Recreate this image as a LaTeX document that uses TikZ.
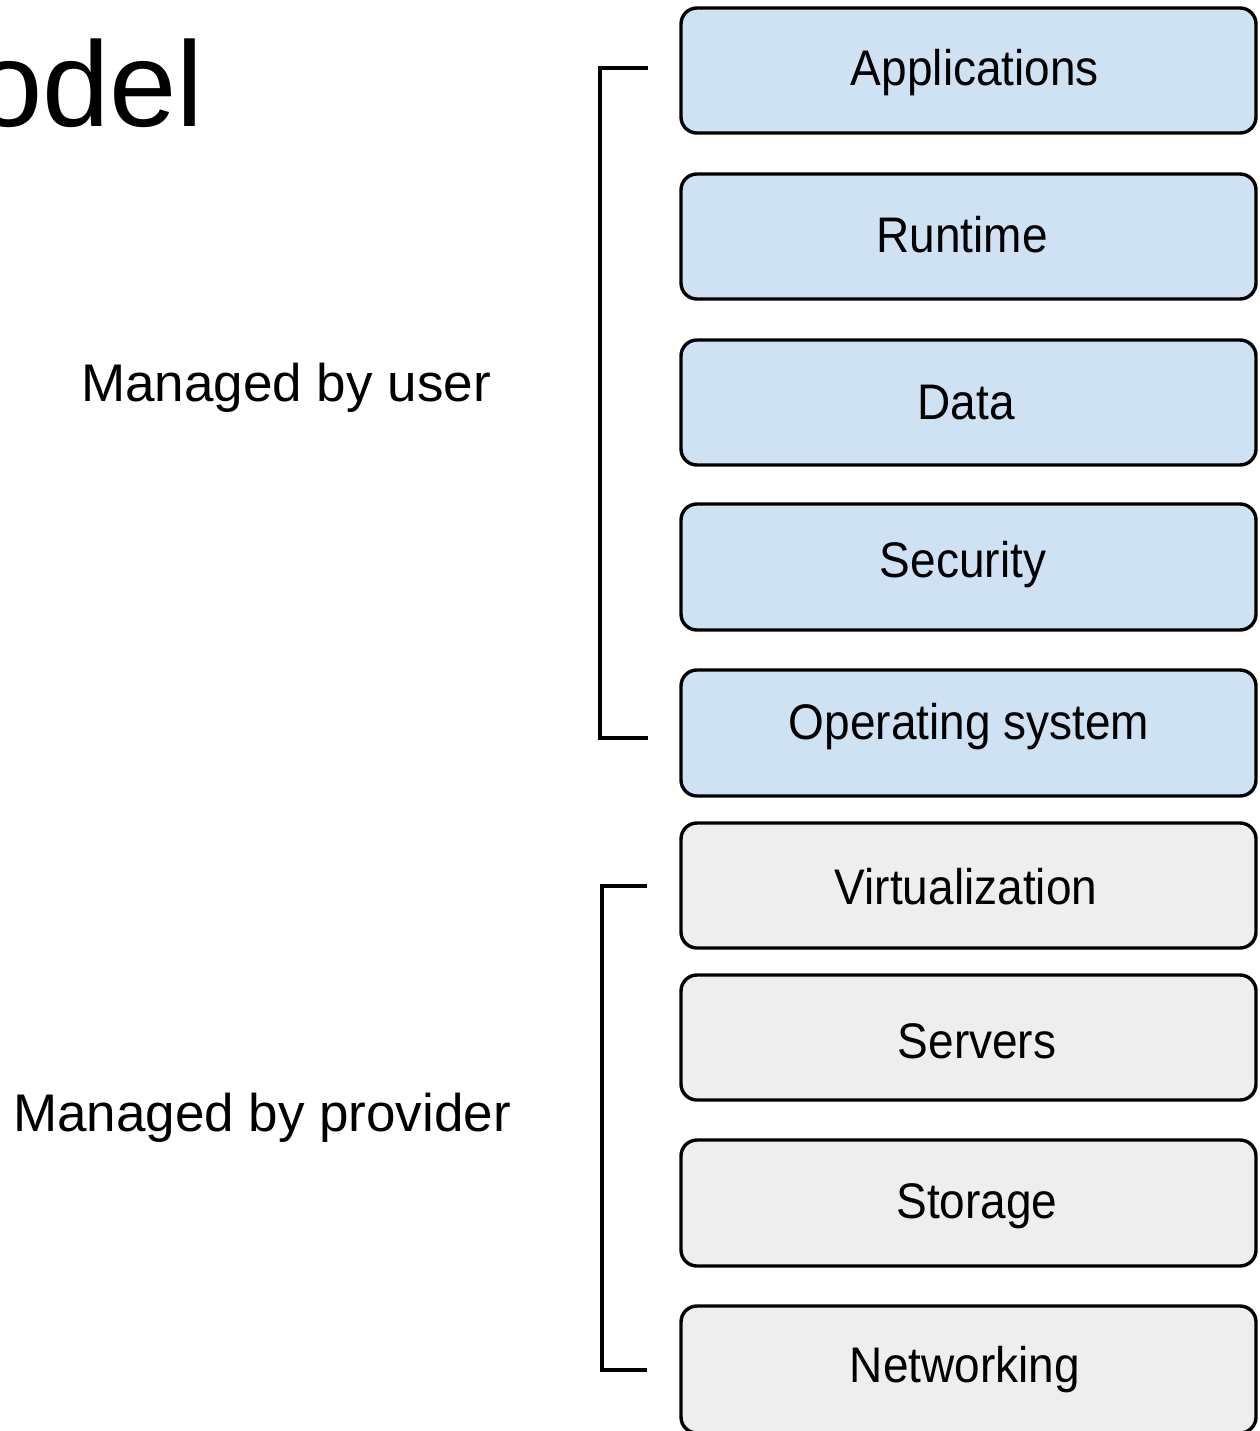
\documentclass[tikz,border=0pt]{standalone}
\usepackage{fontspec}
\setmainfont{Liberation Sans}
\newfontfamily\boxfont[FakeStretch=0.92]{Liberation Sans}
\definecolor{userblue}{HTML}{CFE2F3}
\definecolor{provgray}{HTML}{EEEEEE}
\begin{document}
\begin{tikzpicture}[x=1pt,y=-1pt,
  layer/.style={draw=black,line width=3.4pt,rounded corners=16pt},
  lbl/.style={font=\boxfont\fontsize{50}{60}\selectfont,inner sep=0pt,anchor=center},
  side/.style={font=\fontsize{53}{63}\selectfont,inner sep=0pt,anchor=center},
  brk/.style={line width=3.2pt}]
\useasboundingbox (0,0) rectangle (1259,1431);
% title fragment
\node[font=\fontsize{121}{140}\selectfont,inner sep=0pt,anchor=base east] (title) at (204,127) {Model};
% layers
\foreach \nm/\t/\b/\col in {app/8/133/userblue, run/174/299/userblue, dat/340/465/userblue, sec/504/630/userblue, os/670/796/userblue, virt/823/948/provgray, srv/975/1100/provgray, sto/1140/1266/provgray, net/1306/1433/provgray}{
  \draw[layer,fill=\col] (681,\t) rectangle (1256,\b);
  \coordinate (\nm) at (968,{(\t+\b)/2});
}
\node[lbl] (tapp) at (975,73) {Applications};
\node[lbl] (trun) at (962,235) {Runtime};
\node[lbl] (tdat) at (966,403) {Data};
\node[lbl] (tsec) at (963,565) {Security};
\node[lbl] (tos) at (969,727) {Operating system};
\node[lbl] (tvirt) at (966,887) {Virtualization};
\node[lbl] (tsrv) at (977,1041) {Servers};
\node[lbl] (tsto) at (977,1206) {Storage};
\node[lbl] (tnet) at (965,1370) {Networking};
% brackets
\coordinate (u1) at (648,68);
\coordinate (u2) at (648,738);
\coordinate (p1) at (647,886);
\coordinate (p2) at (647,1370);
\draw[brk] (u1) -- (600,68) -- (600,738) -- (u2);
\draw[brk] (p1) -- (602,886) -- (602,1370) -- (p2);
% side labels
\node[side] (user) at (286,388) {Managed by user};
\node[side] (prov) at (262,1118) {Managed by provider};
\end{tikzpicture}
\end{document}
